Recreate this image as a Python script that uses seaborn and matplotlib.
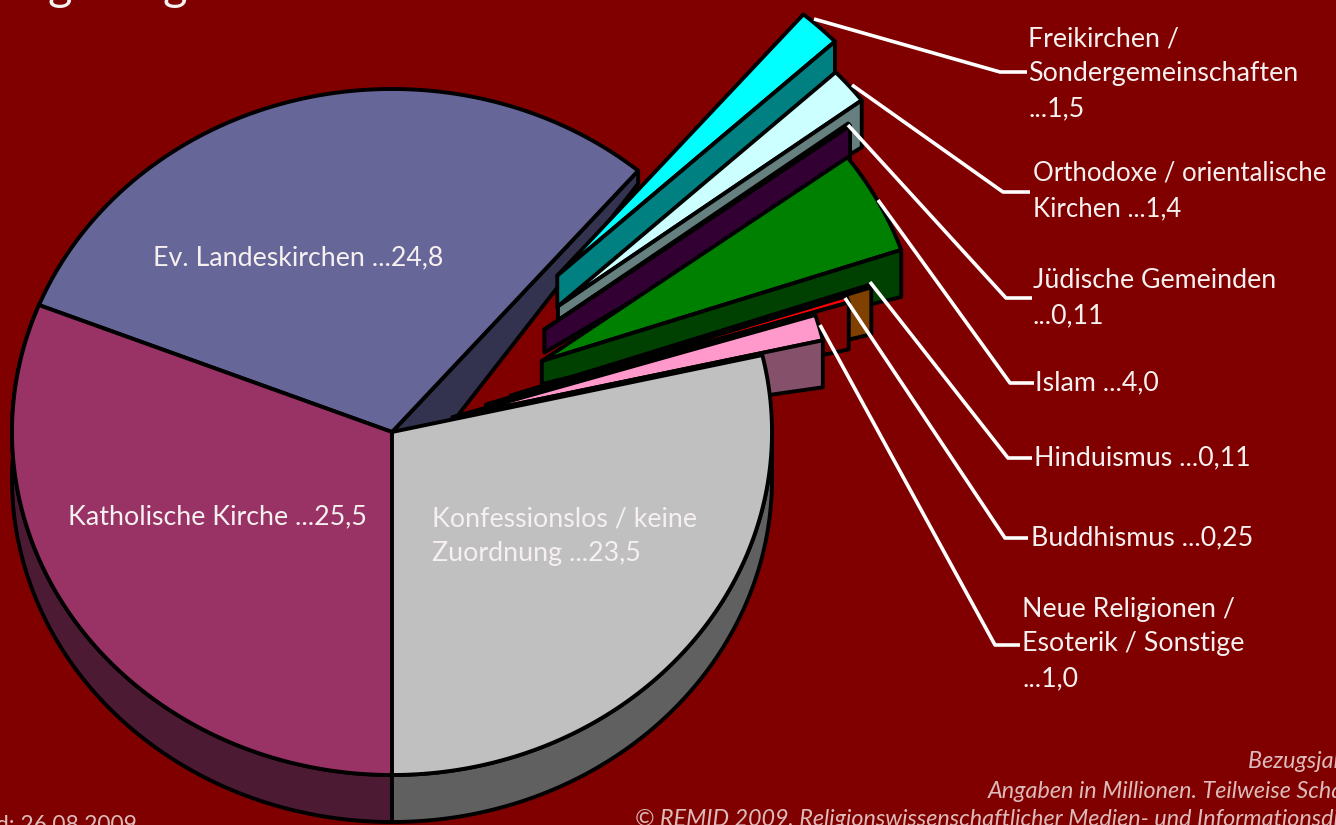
import numpy as np
import matplotlib
matplotlib.use("Agg")
import matplotlib.pyplot as plt
import seaborn as sns

# ---- data (millions) ----
categories = ["Konfessionslos / keine\nZuordnung",
              "Neue Religionen /\nEsoterik / Sonstige\n",
              "Buddhismus ", "Hinduismus ", "Islam ",
              "Jüdische Gemeinden\n", "Orthodoxe / orientalische\nKirchen ",
              "Freikirchen /\nSondergemeinschaften\n",
              "Ev. Landeskirchen ", "Katholische Kirche "]
values = [23.5, 1.0, 0.25, 0.11, 4.0, 0.11, 1.4, 1.5, 24.8, 25.5]
value_labels = ["23,5", "1,0", "0,25", "0,11", "4,0", "0,11", "1,4", "1,5", "24,8", "25,5"]
explode = [0, 0.165, 0.26, 0.33, 0.445, 0.50, 0.57, 0.63, 0, 0]
apex_depths = [0, 23, 23, 23, 23, 23, 26, 32, 0, 0]
top_colors = ["#C0C0C0", "#FF99CC", "#FF0000", "#FF8000", "#008000", "#660066",
              "#CCFFFF", "#00FFFF", "#666699", "#993366"]
wall_colors = ["#606060", "#85506A", "#800000", "#804000", "#004000", "#330033",
               "#668080", "#008080", "#333350", "#4D1A33"]
start_angle = 270.0

sns.set_theme(style="white", rc={"font.family": ["Lato", "DejaVu Sans"]})
palette = sns.color_palette(top_colors)
wall_palette = sns.color_palette(wall_colors)
BG = "#800000"
EDGE = "black"
LW = 2.8
CX, CY, RX, RY, DEPTH = 392, 432, 380, 343, 47

fig = plt.figure(figsize=(13.36, 8.25), dpi=100, facecolor=BG)
ax = fig.add_axes([0, 0, 1, 1], facecolor=BG)
ax.set_xlim(0, 1336)
ax.set_ylim(825, 0)
ax.axis("off")

vals = np.array(values)
sweep = vals / vals.sum() * 360
edges = start_angle + np.concatenate([[0], np.cumsum(sweep)])


def pt(deg, frac=1.0):
    a = np.radians(deg)
    return np.array([RX * frac * np.cos(a), -RY * frac * np.sin(a)])


def arc(a0, a1):
    t = np.radians(np.linspace(a0, a1, 200))
    return np.column_stack([RX * np.cos(t), -RY * np.sin(t)])


def fill(poly, color, z):
    ax.fill(poly[:, 0], poly[:, 1], facecolor=color, edgecolor=EDGE,
            linewidth=LW, joinstyle="round", zorder=z)


centre = np.array([CX, CY], float)
z = 1

# wall of the Ev. wedge behind the exploded slices
i = 8
tip = centre + pt(edges[i])
fill(np.array([centre, tip, tip + [0, 13], centre + [0, 68]]), wall_palette[i], z)
z += 1

# exploded slices, back to front
for i in [7, 6, 5, 4, 3, 2, 1]:
    mid = (edges[i] + edges[i + 1]) / 2
    apex = centre + pt(mid, explode[i])
    rim = apex + arc(edges[i], edges[i + 1])
    fill(np.vstack([apex, rim]), palette[i], z)
    z += 1
    low = rim[0]
    fill(np.array([apex, low, low + [0, DEPTH], apex + [0, apex_depths[i]]]), wall_palette[i], z)
    z += 1

# main body
for i, (a0, a1) in {9: (edges[9], edges[10]), 0: (edges[0], 360)}.items():
    top = centre + arc(a0, a1)
    low = top[::-1] + [0, DEPTH]
    fill(np.vstack([top, low]), wall_palette[i], z)
    z += 1
for i in [8, 9, 0]:
    fill(np.vstack([centre, centre + arc(edges[i], edges[i + 1])]), palette[i], z)
    z += 1

# labels on the body
TXT = "#F6F0F0"
FS = 19.3
text_kw = dict(color=TXT, fontsize=FS, va="center", ha="left", zorder=50, linespacing=1.5)
ax.text(153, 258, f"{categories[8]}...{value_labels[8]}", **text_kw)
ax.text(68, 517, f"{categories[9]}...{value_labels[9]}", **text_kw)
ax.text(432, 536, f"{categories[0]} ...{value_labels[0]}", **text_kw)

# outer labels with leader lines
leaders = {
    7: ((814, 19), (1000, 72), (1027, 72), (1028, 74)),
    6: ((852, 85), (1003, 192), (1030, 192), (1033, 191)),
    5: ((848, 125), (1006, 298), (1032, 298), (1033, 298)),
    4: ((878, 200), (1010, 383), (1034, 383), (1035, 383)),
    3: ((870, 282), (1008, 458), (1032, 458), (1034, 458)),
    2: ((845, 298), (1005, 538), (1028, 538), (1031, 538)),
    1: ((820, 325), (995, 645), (1020, 645), (1022, 644)),
}
for i, (a, b, c, pos) in leaders.items():
    ax.plot([a[0], b[0], c[0]], [a[1], b[1], c[1]], color="white", lw=2.6,
            solid_capstyle="butt", zorder=40)
    kw = dict(text_kw)
    if i == 6:  # the longest label has to stay inside the canvas
        kw.update(fontsize=18.5, linespacing=1.56)
    ax.text(pos[0], pos[1], f"{categories[i]}...{value_labels[i]}", **kw)

# notes that run off the canvas, as in the reference
FOOT = "#DDBBBB"
foot_kw = dict(color=FOOT, fontsize=16.8, style="italic", va="center", ha="left", zorder=50)
ax.text(1248, 761, "Bezugsjahr 2008", **foot_kw)
ax.text(988, 791, "Angaben in Millionen. Teilweise Schätzungen", **foot_kw)
ax.text(635, 819, "© REMID 2009, Religionswissenschaftlicher Medien- und Informationsdienst e.V.", **foot_kw)
ax.text(137, 826, "Stand: 26.08.2009", color=FOOT, fontsize=16.5, va="center", ha="right", zorder=50)
ax.text(60, -13, "g", color=TXT, fontsize=34, va="center", ha="center", zorder=50)
ax.text(175, -13, "g", color=TXT, fontsize=34, va="center", ha="center", zorder=50)

fig.savefig("out.png", dpi=100, facecolor=BG)
